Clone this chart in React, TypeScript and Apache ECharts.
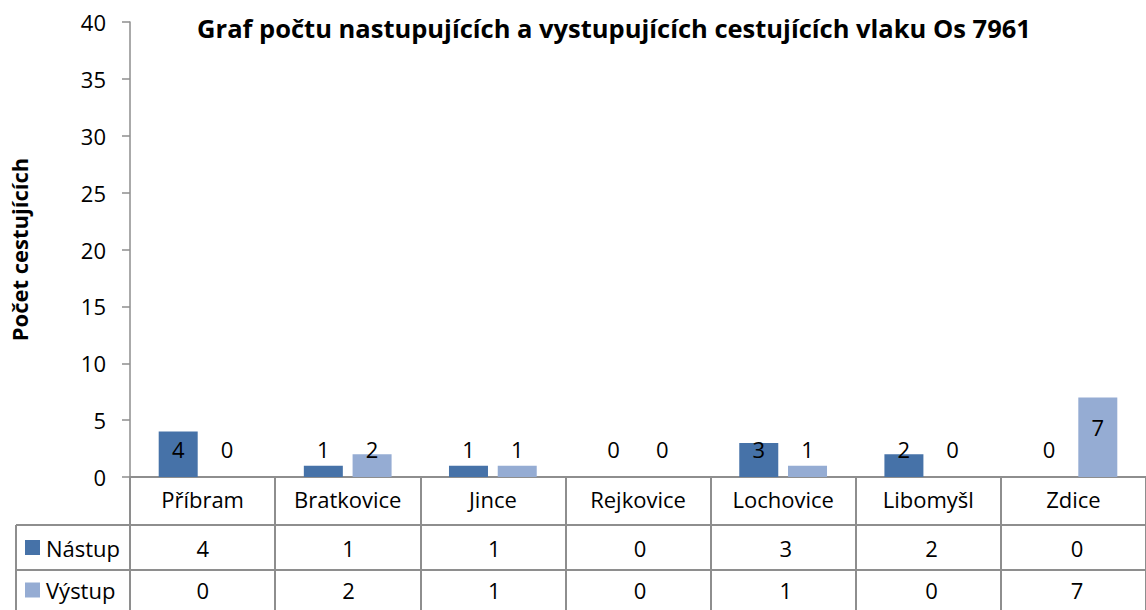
import React, { useEffect, useRef } from 'react';
import * as echarts from 'echarts';

const TITLE = 'Graf počtu nastupujících a vystupujících cestujících vlaku Os 7961';
const Y_NAME = 'Počet cestujících';
const categories = ['Příbram', 'Bratkovice', 'Jince', 'Rejkovice', 'Lochovice', 'Libomyšl', 'Zdice'];
const seriesNames = ['Nástup', 'Výstup'];
const nastup = [4, 1, 1, 0, 3, 2, 0];
const vystup = [0, 2, 1, 0, 1, 0, 7];
const Y_MIN = 0;
const Y_MAX = 40;
const Y_STEP = 5;

const W = 1146;
const H = 610;
const GL = 130;
const GT = 22;
const GW = 1020;
const GH = 455;
const AXIS_Y = GT + GH;
const ROW1 = 525;
const ROW2 = 570;
const TABLE_LEFT = 16;
const COLORS = ['#4672a8', '#95acd3'];
const FONT = '"Open Sans", Lato, sans-serif';
const LINE = '#8e8e8e';
const FS = 22;

export default function App() {
  const ref = useRef<HTMLDivElement>(null);
  useEffect(() => {
    const chart = echarts.init(ref.current!, null, { renderer: 'svg' });
    const pxPerUnit = GH / (Y_MAX - Y_MIN);
    const labelFor = (v: number) => {
      const top = AXIS_Y - v * pxPerUnit;
      const center = Math.min(449, top + 30);
      return { position: ['50%', center - top], align: 'center', verticalAlign: 'middle' };
    };
    const colW = GW / categories.length;
    const rowsData = [nastup, vystup];
    const rowCenters = [(ROW1 + ROW2) / 2, (ROW2 + H) / 2];
    const graphics: any[] = [];
    graphics.push({
      type: 'text', x: 614, y: 28,
      style: { text: TITLE, font: `bold 25.5px ${FONT}`, fill: '#000', align: 'center', verticalAlign: 'middle' },
    });
    [ROW1, ROW2].forEach((y) =>
      graphics.push({ type: 'line', shape: { x1: TABLE_LEFT, y1: y, x2: W, y2: y }, style: { stroke: LINE, lineWidth: 2 } })
    );
    graphics.push({ type: 'line', shape: { x1: TABLE_LEFT, y1: ROW1, x2: TABLE_LEFT, y2: H }, style: { stroke: LINE, lineWidth: 2 } });
    rowsData.forEach((arr, r) => {
      const cy = rowCenters[r];
      graphics.push({ type: 'rect', shape: { x: 25, y: cy - 7.5, width: 15, height: 15 }, style: { fill: COLORS[r] } });
      graphics.push({
        type: 'text', x: 46, y: cy,
        style: { text: seriesNames[r], font: `${FS}px ${FONT}`, fill: '#000', align: 'left', verticalAlign: 'middle' },
      });
      arr.forEach((v, i) => {
        graphics.push({
          type: 'text', x: GL + colW * (i + 0.5), y: cy,
          style: { text: String(v), font: `${FS}px ${FONT}`, fill: '#000', align: 'center', verticalAlign: 'middle' },
        });
      });
    });

    const mkSeries = (name: string, data: number[], color: string) => ({
      name,
      type: 'bar',
      barWidth: 39,
      barGap: '25%',
      itemStyle: { color },
      label: { show: true, fontSize: FS, color: '#000', fontFamily: FONT },
      data: data.map((v) => ({ value: v, label: labelFor(v) })),
    });

    chart.setOption({
      animation: false,
      textStyle: { fontFamily: FONT },
      grid: { left: GL, top: GT, width: GW, height: GH, containLabel: false },
      xAxis: {
        type: 'category',
        data: categories,
        axisLine: { show: true, lineStyle: { color: LINE, width: 2 } },
        axisTick: { show: true, interval: 0, length: H - AXIS_Y, lineStyle: { color: LINE, width: 2 } },
        axisLabel: { interval: 0, fontSize: FS, color: '#000', margin: 11, fontFamily: FONT },
        splitLine: { show: false },
      },
      yAxis: {
        type: 'value',
        min: Y_MIN,
        max: Y_MAX,
        interval: Y_STEP,
        axisLine: { show: true, lineStyle: { color: LINE, width: 1.5 } },
        axisTick: { show: true, length: 8, lineStyle: { color: LINE, width: 1.5 } },
        splitLine: { show: false },
        axisLabel: { fontSize: FS, color: '#000', margin: 24, fontFamily: FONT },
        name: Y_NAME,
        nameLocation: 'middle',
        nameGap: 100,
        nameRotate: 90,
        nameTextStyle: { fontWeight: 'bold', fontSize: 22, color: '#000', fontFamily: FONT },
      },
      series: [mkSeries(seriesNames[0], nastup, COLORS[0]), mkSeries(seriesNames[1], vystup, COLORS[1])],
      graphic: graphics,
    });
    return () => chart.dispose();
  }, []);
  return (
    <div
      ref={ref}
      style={{ position: 'fixed', left: 0, top: 0, width: W, height: H, background: '#fff' }}
    />
  );
}
